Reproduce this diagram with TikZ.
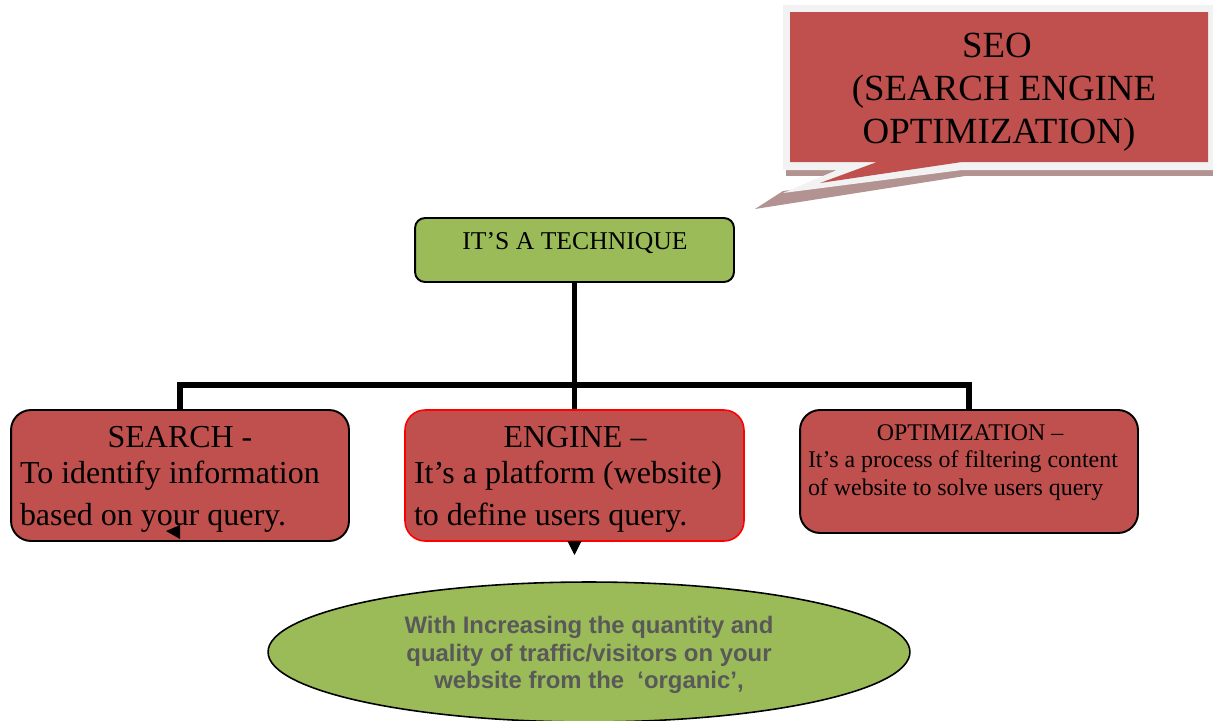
\documentclass[tikz,border=0pt]{standalone}
\usepackage{fontspec}
\setmainfont{Liberation Serif}
\newfontfamily\ellfont{Liberation Sans}
\usetikzlibrary{arrows.meta,shapes.geometric}
\definecolor{boxred}{HTML}{C0504D}
\definecolor{boxgreen}{HTML}{9BBB59}
\definecolor{framegray}{HTML}{F2F2F2}
\definecolor{shadowc}{HTML}{B39292}
\definecolor{elltext}{HTML}{595959}
\begin{document}
\begin{tikzpicture}[x=0.02cm,y=-0.02cm,
  redbox/.style={draw=black, line width=1.1pt, fill=boxred, rounded corners=0.4cm, inner sep=0pt},
  greenbox/.style={draw=black, line width=1.1pt, fill=boxgreen, rounded corners=0.2cm, inner sep=0pt},
  txt/.style={inner sep=0pt, outer sep=0pt},
  bigtxt/.style={txt, font=\fontsize{18.2}{21}\selectfont},
  midtxt/.style={txt, font=\fontsize{13.6}{16}\selectfont},
  techtxt/.style={txt, font=\fontsize{14.6}{17}\selectfont},
  calltxt/.style={txt, font=\fontsize{21}{24}\selectfont},
  elltxt/.style={txt, text=elltext, font=\ellfont\bfseries\fontsize{13.6}{15}\selectfont},
  conn/.style={line width=3pt, line join=miter, line cap=butt},
  tipfill/.style={fill=black}
]
\useasboundingbox (0,0) rectangle (1213,720);

% ---------- callout ----------
\fill[shadowc] (786,168) rectangle (1213,176);
\fill[shadowc] (962,168) -- (965,176) -- (755,209) -- (783,191) -- cycle;
\fill[framegray] (783,5) -- (1213,5) -- (1213,170) -- (962,170) -- (783,193) -- (837,170) -- (783,170) -- cycle;
\fill[boxred] (790,12) -- (1208,12) -- (1208,162) -- (962,162) -- (820,183) -- (877,162) -- (790,162) -- cycle;
\node[calltxt, anchor=base] (seo1) at (997,57) {SEO};
\node[calltxt, anchor=base] (seo2) at (1004,100) {(SEARCH ENGINE};
\node[calltxt, anchor=base] (seo3) at (999,143) {OPTIMIZATION)};

% ---------- boxes ----------
\node[greenbox, minimum width=6.38cm, minimum height=1.28cm] (tech) at (574.5,250) {};
\node[redbox, minimum width=6.76cm, minimum height=2.62cm] (search) at (180,475.5) {};
\node[redbox, draw=red, line width=0.9pt, minimum width=6.78cm, minimum height=2.62cm] (engine) at (574.5,475.5) {};
\node[redbox, minimum width=6.76cm, minimum height=2.46cm] (optim) at (969,471.5) {};
\node[ellipse, draw=black, line width=0.9pt, fill=boxgreen, minimum width=12.84cm, minimum height=2.8cm, inner sep=0pt] (goal) at (589,652) {};

% ---------- connectors ----------
\coordinate (hb) at (0,385);
\coordinate (engtip) at (574.5,555);
\draw[conn] (tech.south) -- (tech.south |- hb);
\draw[conn] (search.north) -- (search.north |- hb) -- (optim.north |- hb) -- (optim.north);
\draw[conn] (engine.north) -- (engine.north |- hb);
\draw[line width=0.5pt, -{Triangle[length=0.28cm, width=0.28cm]}] (engine.south) -- (engtip);
\fill[tipfill] (180,525) -- (180,539) -- (166,531) -- cycle;

% ---------- texts ----------
\node[techtxt, anchor=base] (techt) at (575,249) {IT’S A TECHNIQUE};

\node[bigtxt, anchor=base] (s1) at (180,447) {SEARCH -};
\node[bigtxt, anchor=base west] (s2) at (20,483) {To identify information};
\node[bigtxt, anchor=base west] (s3) at (20,525) {based on your query.};

\node[bigtxt, anchor=base] (e1) at (575,447) {ENGINE –};
\node[bigtxt, anchor=base west] (e2) at (414,483) {It’s a platform (website)};
\node[bigtxt, anchor=base west] (e3) at (414,525) {to define users query.};

\node[midtxt, anchor=base] (o1) at (970,440) {OPTIMIZATION –};
\node[midtxt, anchor=base west] (o2) at (808,467) {It’s a process of filtering content};
\node[midtxt, anchor=base west] (o3) at (808,495) {of website to solve users query};

\node[elltxt, anchor=base] (g1) at (589,633) {With Increasing the quantity and};
\node[elltxt, anchor=base] (g2) at (589,661) {quality of traffic/visitors on your};
\node[elltxt, anchor=base] (g3) at (589,688) {website from the\ \ ‘organic’,};
\end{tikzpicture}
\end{document}
